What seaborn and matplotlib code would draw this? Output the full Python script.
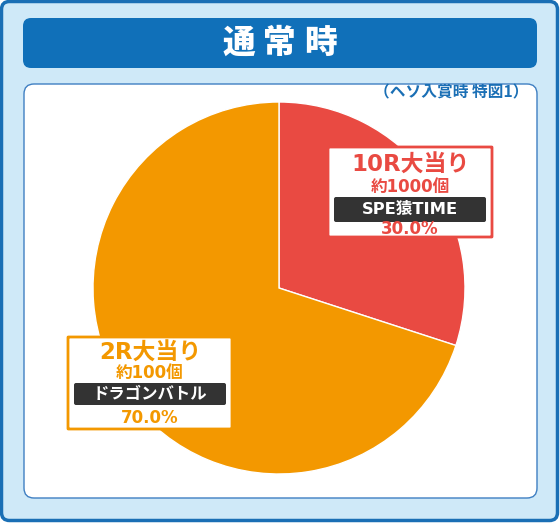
import matplotlib
matplotlib.use("Agg")
import matplotlib.pyplot as plt
from matplotlib.patches import FancyBboxPatch
import seaborn as sns

# Datos del grafico
categorias = ["10R大当り", "2R大当り"]
premios = ["約1000個", "約100個"]
modos = ["SPE猿TIME", "ドラゴンバトル"]
porcentajes = [30.0, 70.0]
colores = ["#e94a42", "#f39800"]
titulo = "通常時"
subtitulo = "（ヘソ入賞時 特図1）"

sns.set_theme(style="white")
plt.rcParams['font.family'] = ['Noto Sans CJK JP', 'DejaVu Sans']
fam_lat = ['DejaVu Sans', 'Noto Sans CJK JP']

W, H = 560, 523
fig = plt.figure(figsize=(W / 100, H / 100), dpi=100)

# Fondo en coordenadas de pixel
bg = fig.add_axes([0, 0, 1, 1])
bg.set_xlim(0, W)
bg.set_ylim(H, 0)
bg.axis('off')

def caja(ax, x0, y0, x1, y1, fc, ec, lw, r, z=1):
    p = FancyBboxPatch((x0 + r, y0 + r), (x1 - x0) - 2 * r, (y1 - y0) - 2 * r,
                       boxstyle=f"round,pad={r}", fc=fc, ec=ec, lw=lw, zorder=z)
    ax.add_patch(p)

caja(bg, 1.5, 1.5, 557.5, 520.5, "#cfe9f8", "#1a6fb5", 2.5, 8)
caja(bg, 23, 18, 537, 68, "#1070b9", "none", 0, 8)
caja(bg, 24, 84, 537, 498, "white", "#3f7fc2", 1.0, 10)

# Titulo con espaciado entre letras
for i, ch in enumerate(titulo):
    bg.text(239 + i * 40.5, 43, ch, color="white", fontsize=23.5, fontweight="heavy",
            ha="center", va="center")
bg.text(529, 92, subtitulo, color="#1a6fb5", fontsize=11.3, fontweight="bold",
        ha="right", va="center")

# Pastel: centro (279, 288), radio 186
cx, cy, rad = 279, 288, 186
ax = fig.add_axes([(cx - rad) / W, (H - cy - rad) / H, 2 * rad / W, 2 * rad / H])
ax.pie(porcentajes, colors=colores, startangle=90, counterclock=False,
       wedgeprops=dict(edgecolor="white", linewidth=1))
ax.set_xlim(-1, 1)
ax.set_ylim(-1, 1)
ax.axis('off')

# Etiquetas
lab = fig.add_axes([0, 0, 1, 1])
lab.set_xlim(0, W)
lab.set_ylim(H, 0)
lab.axis('off')

# (x0, y0, x1, y1, y_titulo, y_premio, barra_y0, barra_y1, y_pct)
cajas = [(328, 147, 492, 237, 165, 187, 197, 222, 229),
         (68, 337, 232, 429, 353, 373, 383, 405, 418)]
for i in range(len(categorias)):
    x0, y0, x1, y1, yt, yp, b0, b1, yc = cajas[i]
    xm = (x0 + x1) / 2
    col = colores[i]
    caja(lab, x0, y0, x1, y1, "white", col, 2.0, 0.5)
    lab.text(xm, yt, categorias[i], color=col, fontsize=16.5, fontweight="bold",
             ha="center", va="center", family=fam_lat)
    lab.text(xm, yp, premios[i], color=col, fontsize=12, fontweight="bold",
             ha="center", va="center", family=fam_lat)
    caja(lab, x0 + 6, b0, x1 - 6, b1, "#333333", "none", 0, 2)
    lab.text(xm, (b0 + b1) / 2, modos[i], color="white", fontsize=11.8, fontweight="bold",
             ha="center", va="center", family=fam_lat)
    lab.text(xm, yc, f"{porcentajes[i]:.1f}%", color=col, fontsize=12,
             fontweight="bold", ha="center", va="center", family=fam_lat)

fig.savefig("out.png", dpi=100)
